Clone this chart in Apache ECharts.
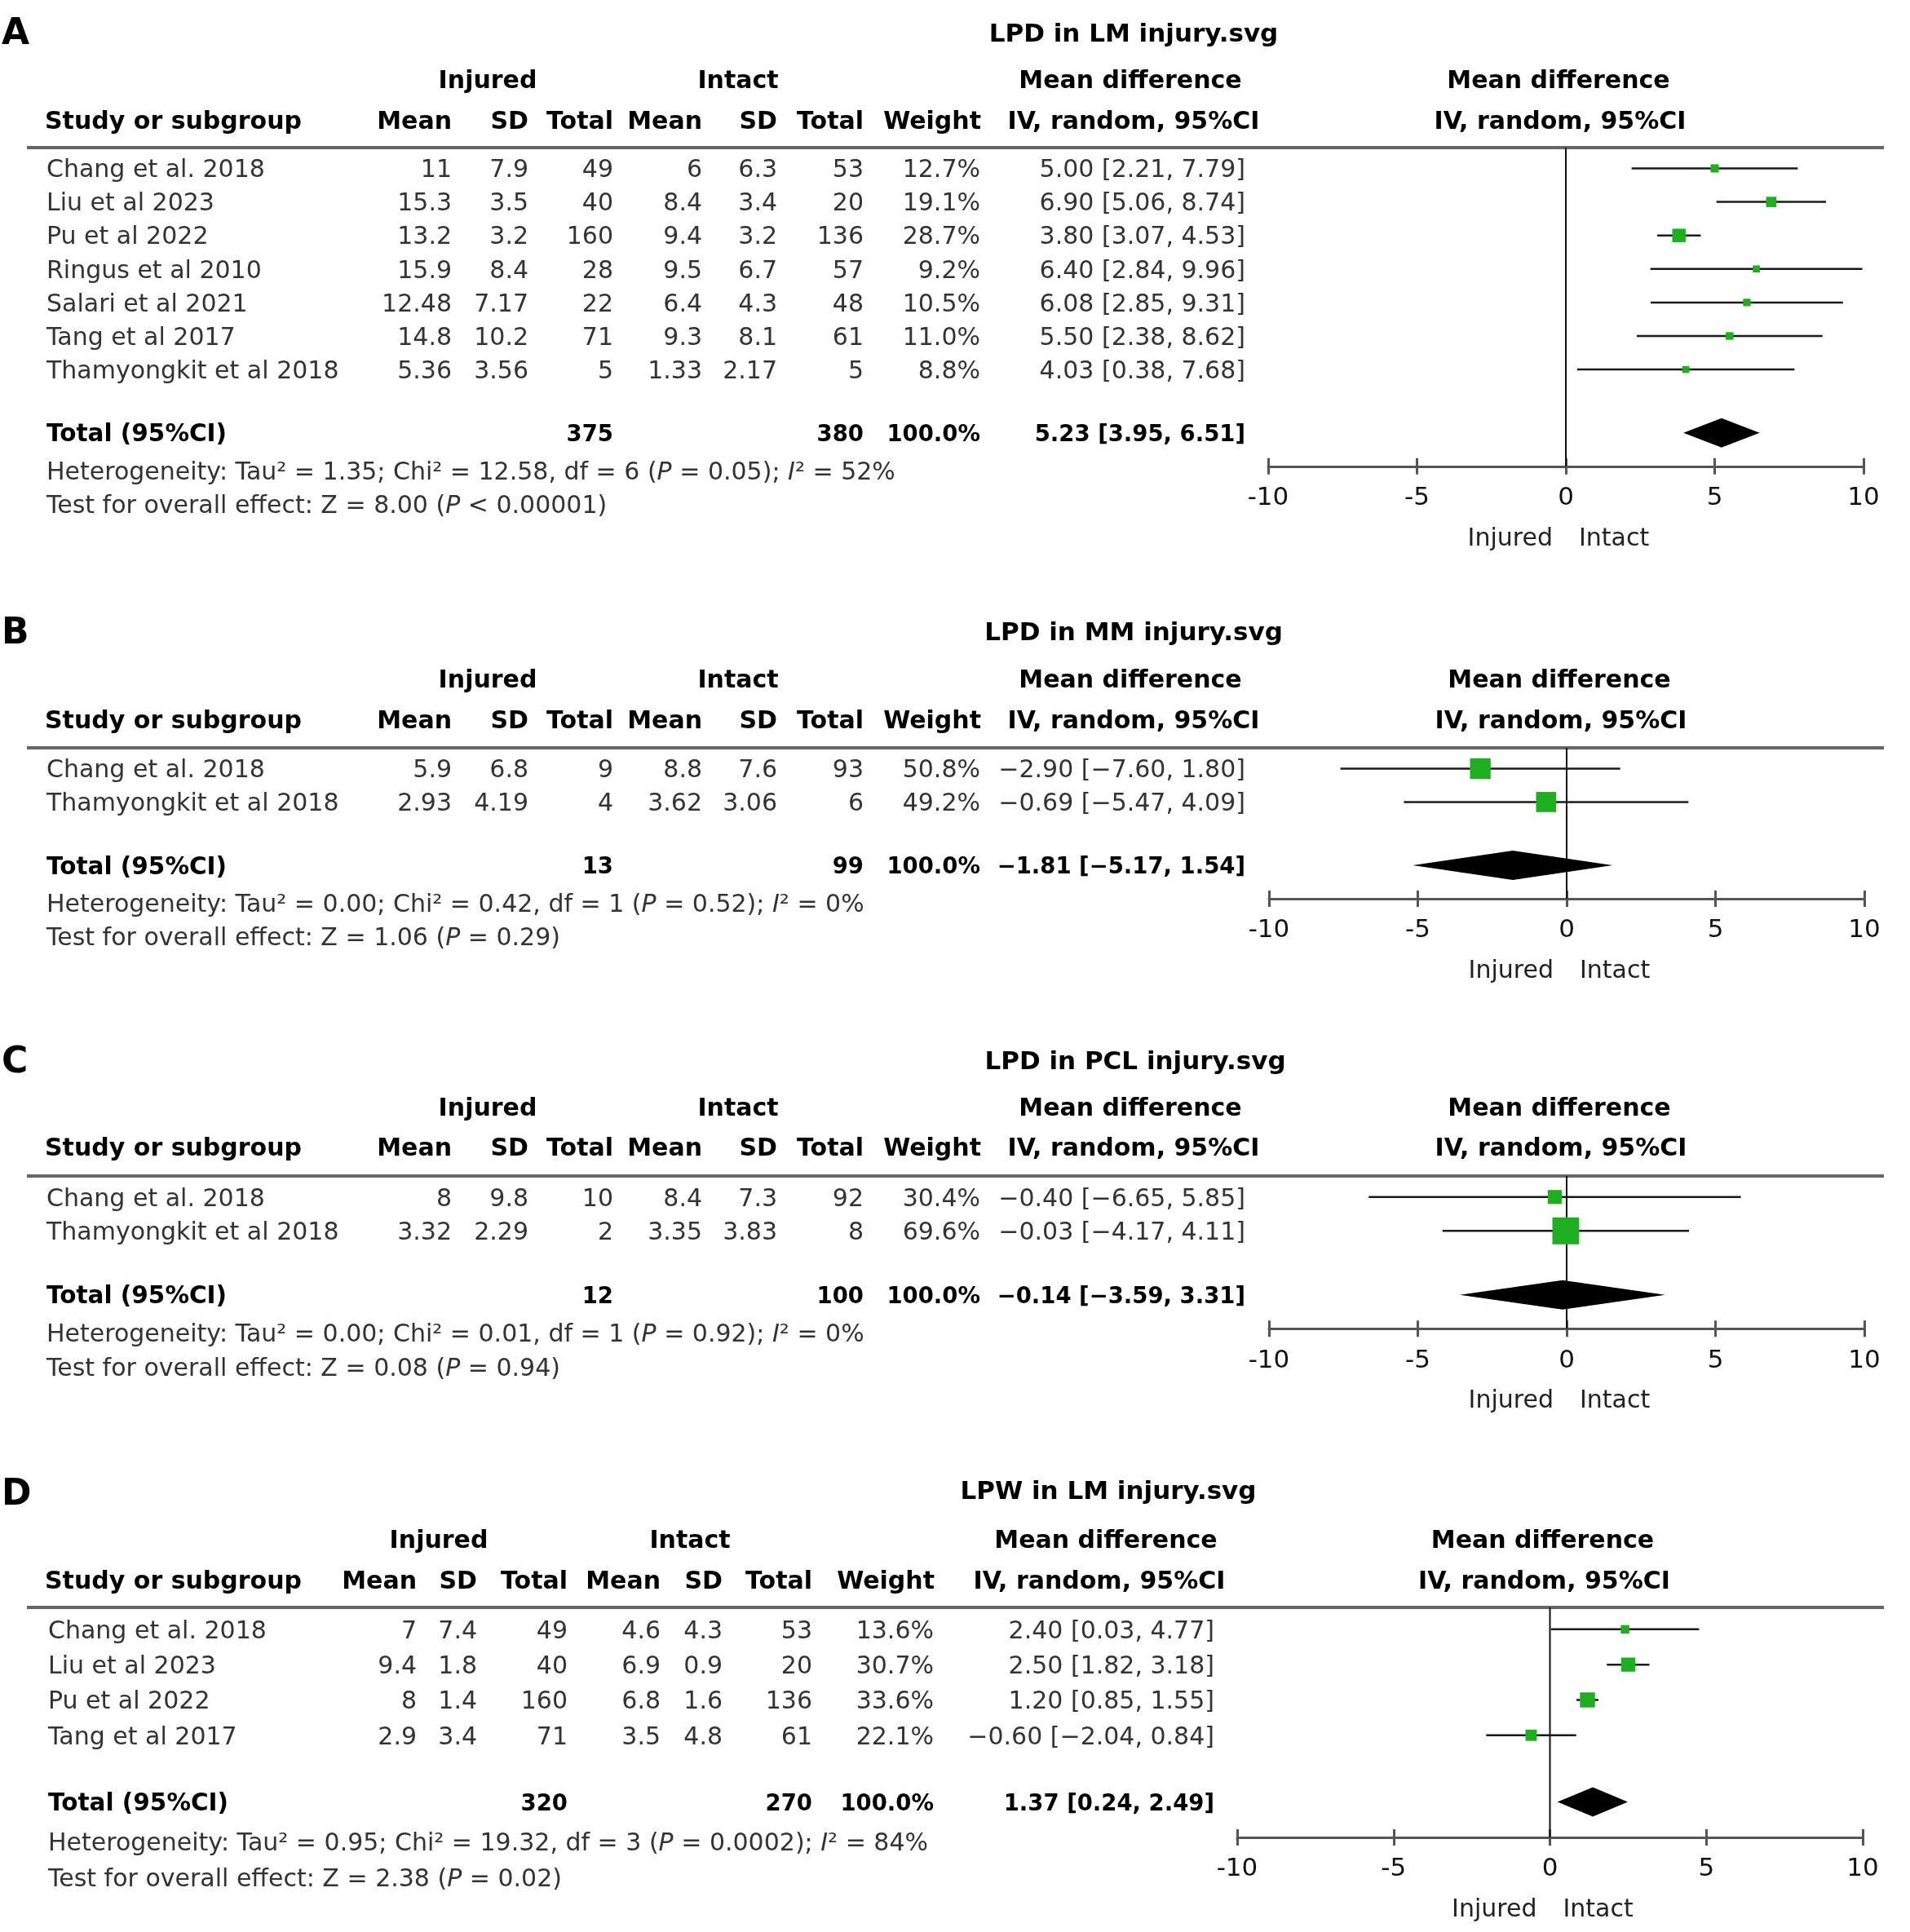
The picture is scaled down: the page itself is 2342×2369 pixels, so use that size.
<!DOCTYPE html>
<html><head><meta charset="utf-8">
<script src="https://cdn.jsdelivr.net/npm/echarts@6/dist/echarts.min.js"></script>
<style>html,body{margin:0;padding:0;background:#fff}#c{width:2342px;height:2369px}</style>
</head><body><div id="c"></div>
<script>
// ---------- Panel A : LPD in LM injury ----------
const A_studies = ['Chang et al. 2018','Liu et al 2023','Pu et al 2022','Ringus et al 2010','Salari et al 2021','Tang et al 2017','Thamyongkit et al 2018'];
const A_injMean = [11, 15.3, 13.2, 15.9, 12.48, 14.8, 5.36];
const A_injSD   = [7.9, 3.5, 3.2, 8.4, 7.17, 10.2, 3.56];
const A_injN    = [49, 40, 160, 28, 22, 71, 5];
const A_intMean = [6, 8.4, 9.4, 9.5, 6.4, 9.3, 1.33];
const A_intSD   = [6.3, 3.4, 3.2, 6.7, 4.3, 8.1, 2.17];
const A_intN    = [53, 20, 136, 57, 48, 61, 5];
const A_weight  = [12.7, 19.1, 28.7, 9.2, 10.5, 11.0, 8.8];
const A_md      = [5.00, 6.90, 3.80, 6.40, 6.08, 5.50, 4.03];
const A_lo      = [2.21, 5.06, 3.07, 2.84, 2.85, 2.38, 0.38];
const A_hi      = [7.79, 8.74, 4.53, 9.96, 9.31, 8.62, 7.68];
const A_total   = [375, 380, 100.0, 5.23, 3.95, 6.51];   // injN, intN, weight, md, lo, hi
const A_stats   = ['1.35', '12.58', '6', '= 0.05', '52', '8.00', '< 0.00001']; // Tau2, Chi2, df, P, I2, Z, P

// ---------- Panel B : LPD in MM injury ----------
const B_studies = ['Chang et al. 2018','Thamyongkit et al 2018'];
const B_injMean = [5.9, 2.93];
const B_injSD   = [6.8, 4.19];
const B_injN    = [9, 4];
const B_intMean = [8.8, 3.62];
const B_intSD   = [7.6, 3.06];
const B_intN    = [93, 6];
const B_weight  = [50.8, 49.2];
const B_md      = [-2.90, -0.69];
const B_lo      = [-7.60, -5.47];
const B_hi      = [1.80, 4.09];
const B_total   = [13, 99, 100.0, -1.81, -5.17, 1.54];
const B_stats   = ['0.00', '0.42', '1', '= 0.52', '0', '1.06', '= 0.29'];

// ---------- Panel C : LPD in PCL injury ----------
const C_studies = ['Chang et al. 2018','Thamyongkit et al 2018'];
const C_injMean = [8, 3.32];
const C_injSD   = [9.8, 2.29];
const C_injN    = [10, 2];
const C_intMean = [8.4, 3.35];
const C_intSD   = [7.3, 3.83];
const C_intN    = [92, 8];
const C_weight  = [30.4, 69.6];
const C_md      = [-0.40, -0.03];
const C_lo      = [-6.65, -4.17];
const C_hi      = [5.85, 4.11];
const C_total   = [12, 100, 100.0, -0.14, -3.59, 3.31];
const C_stats   = ['0.00', '0.01', '1', '= 0.92', '0', '0.08', '= 0.94'];

// ---------- Panel D : LPW in LM injury ----------
const D_studies = ['Chang et al. 2018','Liu et al 2023','Pu et al 2022','Tang et al 2017'];
const D_injMean = [7, 9.4, 8, 2.9];
const D_injSD   = [7.4, 1.8, 1.4, 3.4];
const D_injN    = [49, 40, 160, 71];
const D_intMean = [4.6, 6.9, 6.8, 3.5];
const D_intSD   = [4.3, 0.9, 1.6, 4.8];
const D_intN    = [53, 20, 136, 61];
const D_weight  = [13.6, 30.7, 33.6, 22.1];
const D_md      = [2.40, 2.50, 1.20, -0.60];
const D_lo      = [0.03, 1.82, 0.85, -2.04];
const D_hi      = [4.77, 3.18, 1.55, 0.84];
const D_total   = [320, 270, 100.0, 1.37, 0.24, 2.49];
const D_stats   = ['0.95', '19.32', '3', '= 0.0002', '84', '2.38', '= 0.02'];

// ---------- axis ----------
const X_MIN = -10, X_MAX = 10, X_STEP = 5;
const PANEL_LETTERS = ['A','B','C','D'];
const PANEL_TITLES = ['LPD in LM injury.svg','LPD in MM injury.svg','LPD in PCL injury.svg','LPW in LM injury.svg'];

// ---------- layout (pixels) ----------
const COLS_ABC = {name:57, injMean:554, injSD:648, injN:752, intMean:861, intSD:953, intN:1059, weight:1202, md:1527,
  hInjured:598, hIntact:905, hMD:1386, hIV:1392};
const COLS_D = {name:59, injMean:511, injSD:585, injN:696, intMean:810, intSD:886, intN:996, weight:1145, md:1489,
  hInjured:538, hIntact:846, hMD:1356, hIV:1350};
const LAYOUT = [
  {titleX:1390, titleY:38,   letterY:38,   h1Y:97,   h2Y:147,  ruleY:181,  step:41.1, x0:1555, x1:2285, cols:COLS_ABC},
  {titleX:1390, titleY:772,  letterY:773,  h1Y:832,  h2Y:882,  ruleY:917,  step:41.0, x0:1556, x1:2286, cols:COLS_ABC},
  {titleX:1392, titleY:1298, letterY:1299, h1Y:1357, h2Y:1406, ruleY:1442, step:41.5, x0:1556, x1:2286, cols:COLS_ABC},
  {titleX:1359, titleY:1825, letterY:1829, h1Y:1887, h2Y:1937, ruleY:1971, step:43.3, x0:1517, x1:2284, cols:COLS_D}
];

const PANELS = [
  {studies:A_studies, injMean:A_injMean, injSD:A_injSD, injN:A_injN, intMean:A_intMean, intSD:A_intSD, intN:A_intN, weight:A_weight, md:A_md, lo:A_lo, hi:A_hi, total:A_total, stats:A_stats},
  {studies:B_studies, injMean:B_injMean, injSD:B_injSD, injN:B_injN, intMean:B_intMean, intSD:B_intSD, intN:B_intN, weight:B_weight, md:B_md, lo:B_lo, hi:B_hi, total:B_total, stats:B_stats},
  {studies:C_studies, injMean:C_injMean, injSD:C_injSD, injN:C_injN, intMean:C_intMean, intSD:C_intSD, intN:C_intN, weight:C_weight, md:C_md, lo:C_lo, hi:C_hi, total:C_total, stats:C_stats},
  {studies:D_studies, injMean:D_injMean, injSD:D_injSD, injN:D_injN, intMean:D_intMean, intSD:D_intSD, intN:D_intN, weight:D_weight, md:D_md, lo:D_lo, hi:D_hi, total:D_total, stats:D_stats}
];

const FONT = 'DejaVu Sans';
const GREEN = '#1fae1f';
const TEXT_DY = 3;
const minus = s => s.replace(/-/g, '\u2212');
const f2 = v => minus(v.toFixed(2));
const ci = (m, l, h) => f2(m) + ' [' + f2(l) + ', ' + f2(h) + ']';

function txt(x, y, text, align, o) {
  o = o || {};
  const st = {
    text: text, fill: o.color || '#333', fontSize: o.size || 30, fontFamily: FONT,
    fontWeight: o.bold ? 'bold' : 'normal',
    align: align, textAlign: align, verticalAlign: 'middle', textVerticalAlign: 'middle'
  };
  if (o.rich) st.rich = o.rich;
  return {type: 'text', x: x, y: y + TEXT_DY, silent: true, style: st};
}

const grids = [], xAxes = [], yAxes = [], series = [], graphics = [];

PANELS.forEach(function (P, k) {
  const L = LAYOUT[k], C = L.cols;
  const n = P.studies.length;
  const totalRow = n - 1 + 1.89;
  const ymin = -0.62, ymax = totalRow + 1.0;
  const gh = (ymax - ymin) * L.step;
  const axisY = L.ruleY + gh;
  const xZero = (L.x0 + L.x1) / 2;

  grids.push({left: L.x0, top: L.ruleY, width: L.x1 - L.x0, height: gh, containLabel: false});
  const tickStyle = {color: '#555', width: 3};
  xAxes.push({gridIndex: k, type: 'value', min: X_MIN, max: X_MAX, interval: X_STEP, position: 'bottom',
    axisLine: {show: true, onZero: false, lineStyle: {color: '#555', width: 3}},
    axisTick: {show: true, length: 10, lineStyle: tickStyle},
    axisLabel: {fontSize: 31, fontFamily: FONT, color: '#111', margin: 24},
    splitLine: {show: false}});
  xAxes.push({gridIndex: k, type: 'value', min: X_MIN, max: X_MAX, interval: X_STEP, position: 'top', offset: -gh,
    axisLine: {show: false}, axisTick: {show: true, length: 10, lineStyle: tickStyle},
    axisLabel: {show: false}, splitLine: {show: false}});
  yAxes.push({gridIndex: k, type: 'value', inverse: true, min: ymin, max: ymax, show: false});
  const xi = 2 * k, yi = k;

  // zero line
  series.push({type: 'custom', xAxisIndex: xi, yAxisIndex: yi, clip: false, silent: true, z: 1,
    data: [[0, ymin, ymax]],
    renderItem: function (params, api) {
      const a = api.coord([api.value(0), api.value(1)]);
      const b = api.coord([api.value(0), api.value(2)]);
      return {type: 'line', shape: {x1: a[0], y1: a[1], x2: b[0], y2: b[1]}, style: {stroke: '#111', lineWidth: 2}};
    }});

  // study CI lines + weight squares
  series.push({type: 'custom', xAxisIndex: xi, yAxisIndex: yi, clip: false, silent: true, z: 3,
    data: P.md.map(function (m, i) { return [m, i, P.lo[i], P.hi[i], P.weight[i]]; }),
    renderItem: function (params, api) {
      const c = api.coord([api.value(0), api.value(1)]);
      const l = api.coord([api.value(2), api.value(1)]);
      const r = api.coord([api.value(3), api.value(1)]);
      const sz = 5 + 0.4 * api.value(4);
      return {type: 'group', children: [
        {type: 'line', shape: {x1: l[0], y1: l[1], x2: r[0], y2: r[1]}, style: {stroke: '#1a1a1a', lineWidth: 2.5}},
        {type: 'rect', shape: {x: c[0] - sz / 2, y: c[1] - sz / 2, width: sz, height: sz}, style: {fill: GREEN}}
      ]};
    }});

  // pooled diamond
  series.push({type: 'custom', xAxisIndex: xi, yAxisIndex: yi, clip: false, silent: true, z: 3,
    data: [[P.total[3], totalRow, P.total[4], P.total[5]]],
    renderItem: function (params, api) {
      const c = api.coord([api.value(0), api.value(1)]);
      const l = api.coord([api.value(2), api.value(1)]);
      const r = api.coord([api.value(3), api.value(1)]);
      const h = 18;
      return {type: 'polygon', shape: {points: [[l[0], l[1]], [c[0], c[1] - h], [r[0], r[1]], [c[0], c[1] + h]]},
        style: {fill: '#000'}};
    }});

  // table rows
  series.push({type: 'custom', xAxisIndex: xi, yAxisIndex: yi, clip: false, silent: true, z: 5,
    data: P.studies.map(function (s, i) { return [0, i]; }),
    renderItem: function (params, api) {
      const i = params.dataIndex;
      const y = api.coord([0, api.value(1)])[1];
      return {type: 'group', children: [
        txt(C.name, y, P.studies[i], 'left'),
        txt(C.injMean, y, String(P.injMean[i]), 'right'),
        txt(C.injSD, y, String(P.injSD[i]), 'right'),
        txt(C.injN, y, String(P.injN[i]), 'right'),
        txt(C.intMean, y, String(P.intMean[i]), 'right'),
        txt(C.intSD, y, String(P.intSD[i]), 'right'),
        txt(C.intN, y, String(P.intN[i]), 'right'),
        txt(C.weight, y, P.weight[i].toFixed(1) + '%', 'right'),
        txt(C.md, y, ci(P.md[i], P.lo[i], P.hi[i]), 'right')
      ]};
    }});

  // total row
  series.push({type: 'custom', xAxisIndex: xi, yAxisIndex: yi, clip: false, silent: true, z: 5,
    data: [[0, totalRow]],
    renderItem: function (params, api) {
      const y = api.coord([0, api.value(1)])[1];
      const b = {bold: true, color: '#000', size: 27.5};
      return {type: 'group', children: [
        txt(C.name, y, 'Total (95%CI)', 'left', {bold: true, color: '#000', size: 29.5}),
        txt(C.injN, y, String(P.total[0]), 'right', b),
        txt(C.intN, y, String(P.total[1]), 'right', b),
        txt(C.weight, y, P.total[2].toFixed(1) + '%', 'right', b),
        txt(C.md, y, ci(P.total[3], P.total[4], P.total[5]), 'right', b)
      ]};
    }});

  // heterogeneity + overall effect
  const S = P.stats;
  const rich = {i: {fontStyle: 'italic', fontSize: 30, fontFamily: FONT, fill: '#333', color: '#333'}};
  series.push({type: 'custom', xAxisIndex: xi, yAxisIndex: yi, clip: false, silent: true, z: 5,
    data: [[0, totalRow + 1.13], [0, totalRow + 2.13]],
    renderItem: function (params, api) {
      const y = api.coord([0, api.value(1)])[1];
      const t = params.dataIndex === 0
        ? 'Heterogeneity: Tau\u00b2 = ' + S[0] + '; Chi\u00b2 = ' + S[1] + ', df = ' + S[2] + ' ({i|P} ' + S[3] + '); {i|I}\u00b2 = ' + S[4] + '%'
        : 'Test for overall effect: Z = ' + S[5] + ' ({i|P} ' + S[6] + ')';
      return txt(C.name, y, t, 'left', {rich: rich});
    }});

  // headers and decorations
  const B = {bold: true, color: '#000'};
  graphics.push(txt(2, L.letterY + 2, PANEL_LETTERS[k], 'left', {bold: true, color: '#000', size: 44}));
  graphics.push(txt(L.titleX, L.titleY + 2, PANEL_TITLES[k], 'center', {bold: true, color: '#000', size: 31}));
  graphics.push(txt(C.hInjured, L.h1Y, 'Injured', 'center', B));
  graphics.push(txt(C.hIntact, L.h1Y, 'Intact', 'center', B));
  graphics.push(txt(C.hMD, L.h1Y, 'Mean difference', 'center', B));
  graphics.push(txt(xZero - 9, L.h1Y, 'Mean difference', 'center', B));
  graphics.push(txt(55, L.h2Y, 'Study or subgroup', 'left', B));
  graphics.push(txt(C.injMean, L.h2Y, 'Mean', 'right', B));
  graphics.push(txt(C.injSD, L.h2Y, 'SD', 'right', B));
  graphics.push(txt(C.injN, L.h2Y, 'Total', 'right', B));
  graphics.push(txt(C.intMean, L.h2Y, 'Mean', 'right', B));
  graphics.push(txt(C.intSD, L.h2Y, 'SD', 'right', B));
  graphics.push(txt(C.intN, L.h2Y, 'Total', 'right', B));
  graphics.push(txt(C.weight + 1, L.h2Y, 'Weight', 'right', B));
  graphics.push(txt(C.hIV - 2, L.h2Y, 'IV, random, 95%CI', 'center', B));
  graphics.push(txt(xZero - 7, L.h2Y, 'IV, random, 95%CI', 'center', B));
  graphics.push({type: 'line', silent: true, shape: {x1: 33, y1: L.ruleY, x2: 2310, y2: L.ruleY},
    style: {stroke: '#666', lineWidth: 4}});
  graphics.push(txt(xZero - 16, axisY + 86, 'Injured', 'right', {color: '#222'}));
  graphics.push(txt(xZero + 16, axisY + 86, 'Intact', 'left', {color: '#222'}));
});

const chart = echarts.init(document.getElementById('c'), null, {renderer: 'canvas', width: 2342, height: 2369});
chart.setOption({
  backgroundColor: '#fff',
  animation: false,
  grid: grids, xAxis: xAxes, yAxis: yAxes, series: series,
  graphic: {elements: graphics}
});
</script>
</body></html>
